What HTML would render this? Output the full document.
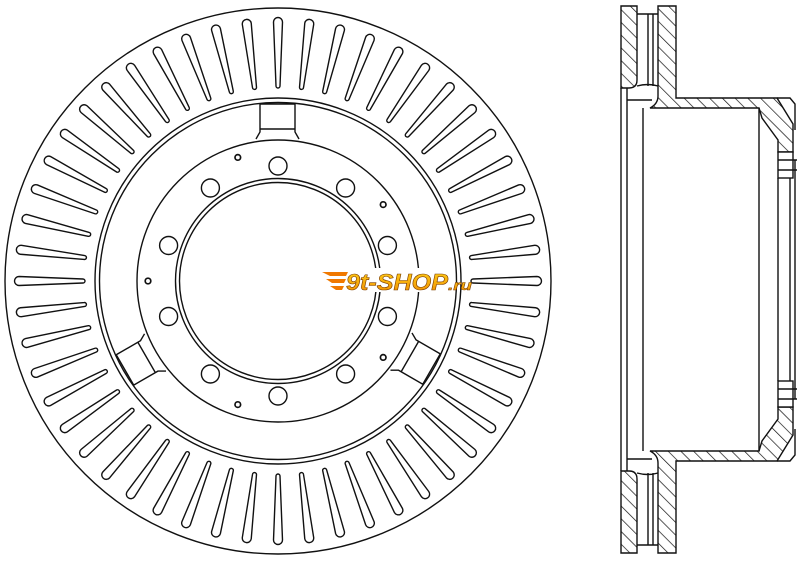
<!DOCTYPE html>
<html><head><meta charset="utf-8"><style>html,body{margin:0;padding:0;background:#fff}svg{display:block}</style></head>
<body>
<svg width="800" height="561" viewBox="0 0 800 561" xmlns="http://www.w3.org/2000/svg">
<defs>
<pattern id="h" patternUnits="userSpaceOnUse" width="9" height="9" patternTransform="rotate(-45)">
<rect width="9" height="9" fill="#fff"/><line x1="0" y1="0" x2="0" y2="9" stroke="#111" stroke-width="1.4"/>
</pattern>
<path id="s" d="M273.5,22 A4.5,4.5 0 0 1 282.5,22 L280,86 A2,2 0 0 1 276,86 Z"/>
<g id="tab"><path d="M260,104 L295,104 M260,104 L260,132 L256,139 M295,104 L295,132 L299,139 M260,129 L295,129"/></g>
<linearGradient id="lg" x1="0" y1="0" x2="0" y2="1"><stop offset="0" stop-color="#ffd21a"/><stop offset="1" stop-color="#f08a00"/></linearGradient>
</defs>
<g fill="none" stroke="#111" stroke-width="1.4">
<circle cx="278" cy="281" r="273"/>
<circle cx="278" cy="281" r="183"/>
<circle cx="278" cy="281" r="178.5"/>
<circle cx="278" cy="281" r="141"/>
<circle cx="278" cy="281" r="102.5"/>
<circle cx="278" cy="281" r="98.5"/>
<g>
<use href="#s" transform="rotate(0 278 281)"/><use href="#s" transform="rotate(6.923 278 281)"/><use href="#s" transform="rotate(13.846 278 281)"/><use href="#s" transform="rotate(20.769 278 281)"/><use href="#s" transform="rotate(27.692 278 281)"/><use href="#s" transform="rotate(34.615 278 281)"/><use href="#s" transform="rotate(41.538 278 281)"/><use href="#s" transform="rotate(48.462 278 281)"/><use href="#s" transform="rotate(55.385 278 281)"/><use href="#s" transform="rotate(62.308 278 281)"/><use href="#s" transform="rotate(69.231 278 281)"/><use href="#s" transform="rotate(76.154 278 281)"/><use href="#s" transform="rotate(83.077 278 281)"/><use href="#s" transform="rotate(90 278 281)"/><use href="#s" transform="rotate(96.923 278 281)"/><use href="#s" transform="rotate(103.846 278 281)"/><use href="#s" transform="rotate(110.769 278 281)"/><use href="#s" transform="rotate(117.692 278 281)"/><use href="#s" transform="rotate(124.615 278 281)"/><use href="#s" transform="rotate(131.538 278 281)"/><use href="#s" transform="rotate(138.462 278 281)"/><use href="#s" transform="rotate(145.385 278 281)"/><use href="#s" transform="rotate(152.308 278 281)"/><use href="#s" transform="rotate(159.231 278 281)"/><use href="#s" transform="rotate(166.154 278 281)"/><use href="#s" transform="rotate(173.077 278 281)"/><use href="#s" transform="rotate(180 278 281)"/><use href="#s" transform="rotate(186.923 278 281)"/><use href="#s" transform="rotate(193.846 278 281)"/><use href="#s" transform="rotate(200.769 278 281)"/><use href="#s" transform="rotate(207.692 278 281)"/><use href="#s" transform="rotate(214.615 278 281)"/><use href="#s" transform="rotate(221.538 278 281)"/><use href="#s" transform="rotate(228.462 278 281)"/><use href="#s" transform="rotate(235.385 278 281)"/><use href="#s" transform="rotate(242.308 278 281)"/><use href="#s" transform="rotate(249.231 278 281)"/><use href="#s" transform="rotate(256.154 278 281)"/><use href="#s" transform="rotate(263.077 278 281)"/><use href="#s" transform="rotate(270 278 281)"/><use href="#s" transform="rotate(276.923 278 281)"/><use href="#s" transform="rotate(283.846 278 281)"/><use href="#s" transform="rotate(290.769 278 281)"/><use href="#s" transform="rotate(297.692 278 281)"/><use href="#s" transform="rotate(304.615 278 281)"/><use href="#s" transform="rotate(311.538 278 281)"/><use href="#s" transform="rotate(318.462 278 281)"/><use href="#s" transform="rotate(325.385 278 281)"/><use href="#s" transform="rotate(332.308 278 281)"/><use href="#s" transform="rotate(339.231 278 281)"/><use href="#s" transform="rotate(346.154 278 281)"/><use href="#s" transform="rotate(353.077 278 281)"/>
</g>
<use href="#tab"/>
<use href="#tab" transform="rotate(120 278 281)"/>
<use href="#tab" transform="rotate(240 278 281)"/>
<circle cx="278" cy="166" r="9"/>
<circle cx="345.6" cy="188" r="9"/>
<circle cx="387.4" cy="245.5" r="9"/>
<circle cx="387.4" cy="316.5" r="9"/>
<circle cx="345.6" cy="374" r="9"/>
<circle cx="278" cy="396" r="9"/>
<circle cx="210.4" cy="374" r="9"/>
<circle cx="168.6" cy="316.5" r="9"/>
<circle cx="168.6" cy="245.5" r="9"/>
<circle cx="210.4" cy="188" r="9"/>
<g stroke-width="1.7">
<circle cx="237.8" cy="157.4" r="2.8"/>
<circle cx="383.2" cy="204.6" r="2.8"/>
<circle cx="383.2" cy="357.4" r="2.8"/>
<circle cx="237.8" cy="404.6" r="2.8"/>
<circle cx="148" cy="281" r="2.8"/>
</g>
</g>

<g>
<rect x="318" y="268" width="120" height="24" fill="#fff"/>
<path d="M322,272 L348,272 L346,276 L330,276 Z M326,279 L346,279 L344,283 L332,283 Z M330,286 L344,286 L342,290 L336,290 Z" fill="#f07800"/>
<text x="346" y="290" font-family="Liberation Sans, sans-serif" font-weight="bold" font-style="italic" font-size="23" fill="url(#lg)" stroke="#7a3c00" stroke-width="0.6" textLength="102" lengthAdjust="spacingAndGlyphs">9t-SHOP</text>
<text x="448" y="290" font-family="Liberation Sans, sans-serif" font-weight="bold" font-style="italic" font-size="14" fill="url(#lg)" stroke="#7a3c00" stroke-width="0.5" textLength="24" lengthAdjust="spacingAndGlyphs">.ru</text>
</g>

<g stroke="#111" stroke-width="1.4">
<path d="M621,6 L637,6 L637,80 Q637,88 629,88 L621,88 Z" fill="url(#h)"/>
<path d="M621,553 L637,553 L637,479 Q637,471 629,471 L621,471 Z" fill="url(#h)"/>
<path d="M658,6 L676,6 L676,98 L777,98 L793,124 L793,152 L778,152 L778,140 L762,118 L759,108 L650,108 Q658,104 658,96 Z" fill="url(#h)"/>
<path d="M658,553 L676,553 L676,461 L777,461 L793,435 L793,407 L778,407 L778,419 L762,441 L759,451 L650,451 Q658,455 658,463 Z" fill="url(#h)"/>
<g fill="#fff">
<rect x="778" y="152" width="15" height="26"/>
<rect x="778" y="381" width="15" height="26"/>
</g>
<g fill="none">
<path d="M778,160 L797,160 M778,170 L797,170 M778,389 L797,389 M778,399 L797,399"/>
<path d="M637,14 L658,14 M648,14 L648,86 M653,14 L653,86 M637,86 Q648,83 658,86"/>
<path d="M637,545 L658,545 M648,473 L648,545 M653,473 L653,545 M637,473 Q648,476 658,473"/>
<path d="M621,88 L621,471 M627,88 L627,471"/>
<path d="M627,100 L652,100 M627,459 L652,459"/>
<path d="M643,108 L643,451"/>
<path d="M759,108 L759,451"/>
<path d="M778,178 L778,381 M790,178 L790,381 M795,160 L795,399"/>
<path d="M777,98 L790,98 L795,104 L795,130"/>
<path d="M777,461 L790,461 L795,455 L795,429"/>
</g>
</g>
</svg>
</body></html>
